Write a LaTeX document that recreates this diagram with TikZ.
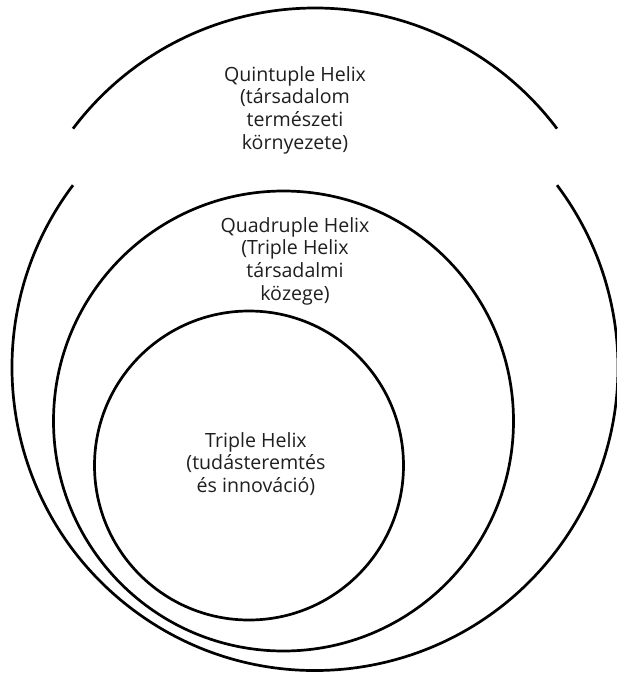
\documentclass[tikz,border=0pt]{standalone}
\usepackage{fontspec}
\setmainfont{Open Sans}
\begin{document}
\begin{tikzpicture}[x=1pt,y=1pt,
  ring/.style={draw=black,line width=2.7pt,circle,inner sep=0pt},
  label/.style={align=center,font=\fontsize{19.6}{22.7}\selectfont,text=black!88,inner sep=0pt},
  rim/.style={draw=black,line width=2.7pt}]
\useasboundingbox (0,0) rectangle (617,-674);
\fill[white] (0,0) rectangle (617,-674);
% outer (quintuple) ring: lower part and lifted lid
\coordinate (oc) at (315,-367.5);
\coordinate (lc) at (315,-311);
\draw[rim] (oc) ++(143:303) arc[start angle=143,end angle=397,radius=303];
\draw[rim] (lc) ++(37:303) arc[start angle=37,end angle=143,radius=303];
% inner rings
\node[ring,minimum size=460pt] (quad) at (283.5,-421) {};
\node[ring,minimum size=309pt] (trip) at (249,-465.5) {};
% labels
\node[label] (tq) at (295,-110) {Quintuple Helix\\(társadalom\\természeti\\környezete)};
\node[label] (tqd) at (295,-261) {Quadruple Helix\\(Triple Helix\\társadalmi\\közege)};
\node[label] (tt) at (256,-464) {Triple Helix\\(tudásteremtés\\és innováció)};
\end{tikzpicture}
\end{document}
